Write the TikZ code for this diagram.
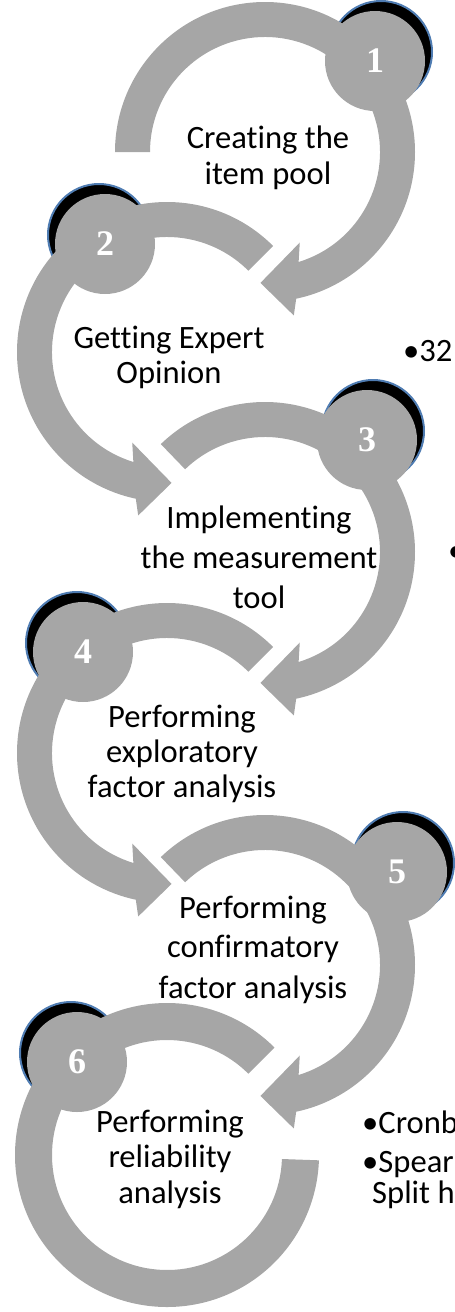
\documentclass[tikz,border=0pt]{standalone}
\usepackage{fontspec}
\setmainfont[Ligatures=NoCommon]{Carlito}
\newfontfamily\numfont{Liberation Serif}
\usetikzlibrary{calc}
\definecolor{bandgray}{RGB}{166,166,166}
\definecolor{rimblue}{RGB}{79,124,178}
\newcommand\rightband[2]{%
  \fill[bandgray] ($(#1)+(#2:150)$) arc[start angle=#2, end angle=-438, radius=150]
    -- ($(#1)+(-80:166)$) -- ($(#1)+(-92:131)$) -- ($(#1)+(-69:97)$)
    -- ($(#1)+(-73:115)$) arc[start angle=-433, end angle=#2, radius=115] -- cycle;}
\newcommand\leftband[1]{%
  \fill[bandgray] ($(#1)+(45:150)$) arc[start angle=45, end angle=258, radius=150]
    -- ($(#1)+(260:166)$) -- ($(#1)+(272:131)$) -- ($(#1)+(249:97)$)
    -- ($(#1)+(253:115)$) arc[start angle=253, end angle=45, radius=115] -- cycle;}
\begin{document}
\begin{tikzpicture}[x=1pt,y=1pt,
  numcircle/.style={circle, fill=bandgray, minimum size=100pt, inner sep=0pt,
    text=white, font=\numfont\bfseries\fontsize{36}{36}\selectfont},
  shadowdisc/.style={fill=black, draw=rimblue, line width=2pt},
  label/.style={anchor=base, inner sep=0pt, text=black, font=\fontsize{32.6}{36}\selectfont},
  side/.style={anchor=base west, inner sep=0pt, text=black, font=\fontsize{32.6}{36}\selectfont}]
\useasboundingbox (0,0) rectangle (455,-1312);
\clip (0,0) rectangle (455,-1312);
% arc centres
\coordinate (c1) at (265,-152);
\coordinate (c2) at (167,-352);
\coordinate (c3) at (265,-552);
\coordinate (c4) at (167,-753);
\coordinate (c5) at (265,-965);
\coordinate (c6) at (167,-1155);
% circle centres
\coordinate (p1) at (375,-61);
\coordinate (p2) at (105,-244);
\coordinate (p3) at (367,-440);
\coordinate (p4) at (83,-652);
\coordinate (p5) at (397,-872);
\coordinate (p6) at (77,-1062);
% shadows
\path[shadowdisc] ($(p1)+(6,9)$) circle[radius=51];
\path[shadowdisc] ($(p2)+(-6,9)$) circle[radius=51];
\path[shadowdisc] ($(p3)+(6,9)$) circle[radius=51];
\path[shadowdisc] ($(p4)+(-6,9)$) circle[radius=51];
\path[shadowdisc] ($(p5)+(6,9)$) circle[radius=51];
\path[shadowdisc] ($(p6)+(-6,9)$) circle[radius=51];
% bands
\rightband{c1}{-180}
\leftband{c2}
\rightband{c3}{-226}
\leftband{c4}
\rightband{c5}{-226}
\fill[bandgray] ($(c6)+(45:152)$) arc[start angle=45, end angle=358, radius=152]
  -- ($(c6)+(358:115)$) arc[start angle=358, end angle=45, radius=115] -- cycle;
% numbered circles
\node[numcircle] (n1) at (p1) {1};
\node[numcircle] (n2) at (p2) {2};
\node[numcircle] (n3) at (p3) {3};
\node[numcircle] (n4) at (p4) {4};
\node[numcircle] (n5) at (p5) {5};
\node[numcircle] (n6) at (p6) {6};
% step labels
\node[label] (t1a) at (268,-148) {Creating the};
\node[label] (t1b) at (268,-184) {item pool};
\node[label] (t2a) at (169,-348) {Getting Expert};
\node[label] (t2b) at (169,-383) {Opinion};
\node[label] (t3a) at (259,-528) {Implementing};
\node[label] (t3b) at (259,-568) {the measurement};
\node[label] (t3c) at (259,-608) {tool};
\node[label] (t4a) at (182,-727) {Performing};
\node[label] (t4b) at (182,-762) {exploratory};
\node[label] (t4c) at (182,-797) {factor analysis};
\node[label] (t5a) at (253,-918) {Performing};
\node[label] (t5b) at (253,-957) {confirmatory};
\node[label] (t5c) at (253,-998) {factor analysis};
\node[label] (t6a) at (170,-1132) {Performing};
\node[label] (t6b) at (170,-1167) {reliability};
\node[label] (t6c) at (170,-1203) {analysis};
% side notes (cut by the picture edge, as in the reference)
\node[side] (s1) at (403,-361) {•32};
\node[side] (s2) at (448,-561) {•};
\node[side] (s3) at (362,-1133) {•Cronb};
\node[side] (s4) at (362,-1172) {•Spearm};
\node[side] (s5) at (372,-1203) {Split h};
\end{tikzpicture}
\end{document}
